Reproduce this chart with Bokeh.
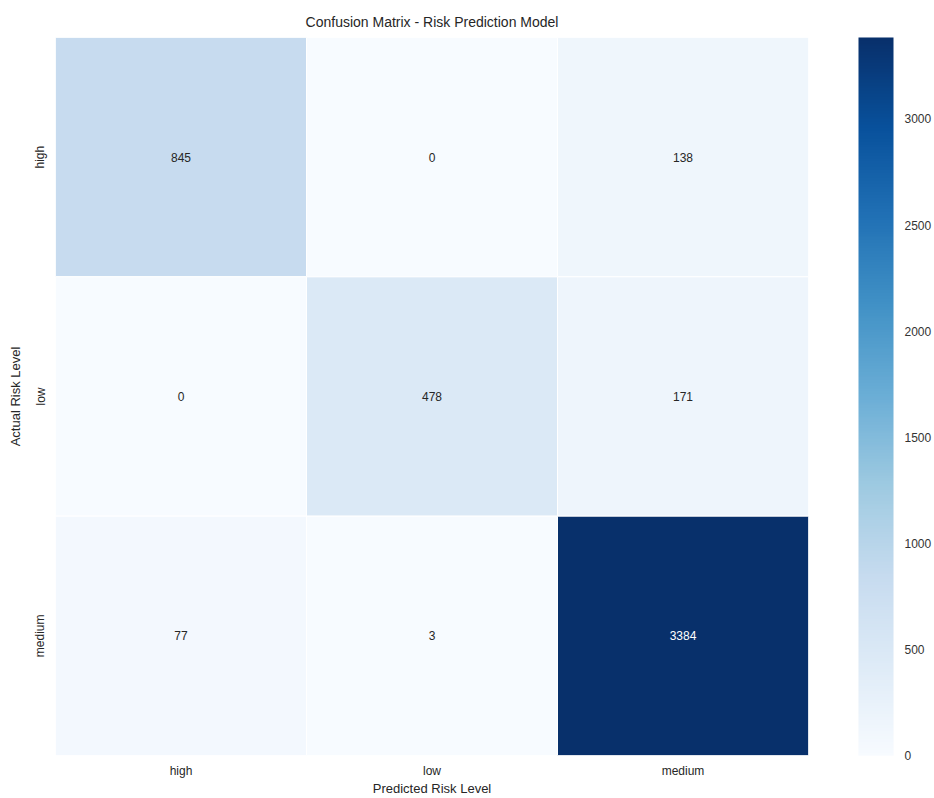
from bokeh.plotting import figure
from bokeh.models import ColumnDataSource, LinearColorMapper, ColorBar, FixedTicker
from bokeh.palettes import Blues256
from bokeh.embed import file_html
from bokeh.resources import INLINE

# ---- data ----
categories = ["high", "low", "medium"]
actual = ["high", "high", "high", "low", "low", "low", "medium", "medium", "medium"]
predicted = ["high", "low", "medium", "high", "low", "medium", "high", "low", "medium"]
counts = [845, 0, 138, 0, 478, 171, 77, 3, 3384]
colorbar_ticks = [0, 500, 1000, 1500, 2000, 2500, 3000]

vmax = max(counts)
palette = list(reversed(Blues256))
mapper = LinearColorMapper(palette=palette, low=0, high=vmax)

text_colors = ["white" if c / vmax > 0.6 else "#262626" for c in counts]
labels = [str(c) for c in counts]

src = ColumnDataSource(dict(actual=actual, predicted=predicted, counts=counts,
                            labels=labels, tcol=text_colors))

FONT = "Liberation Sans"
FRAME_W = 753
FRAME_H = 718
p = figure(width=934, height=798, output_backend="svg", toolbar_location=None,
           x_range=categories, y_range=list(reversed(categories)),
           title="Confusion Matrix - Risk Prediction Model",
           frame_width=FRAME_W, frame_height=FRAME_H,
           min_border_left=55, min_border_right=126, min_border_top=37, min_border_bottom=41)

p.rect(x="predicted", y="actual", width=1, height=1, source=src,
       fill_color={"field": "counts", "transform": mapper},
       line_color="white", line_width=1)
p.text(x="predicted", y="actual", text="labels", source=src, text_color="tcol",
       text_align="center", text_baseline="middle", text_font_size="12px",
       text_font={"value": FONT})

p.title.align = "center"
p.title.text_font = FONT
p.title.text_font_size = "14px"
p.title.text_font_style = "normal"
p.title.text_color = "#262626"
p.title.standoff = 16

p.outline_line_color = None
p.grid.grid_line_color = None
for ax in (p.xaxis, p.yaxis):
    ax.axis_line_color = None
    ax.major_tick_line_color = None
    ax.minor_tick_line_color = None
    ax.major_tick_out = 0
    ax.major_tick_in = 0
    ax.minor_tick_out = 0
    ax.minor_tick_in = 0
    ax.major_label_text_font = FONT
    ax.major_label_text_font_size = "12px"
    ax.major_label_text_color = "#262626"
    ax.axis_label_text_font = FONT
    ax.axis_label_text_font_size = "13px"
    ax.axis_label_text_font_style = "normal"
    ax.axis_label_text_color = "#262626"

p.xaxis.major_label_standoff = 8
p.xaxis.axis_label_standoff = 0
p.yaxis.major_label_standoff = 8
p.yaxis.axis_label_standoff = 8
p.xaxis.axis_label = "Predicted Risk Level"
p.yaxis.axis_label = "Actual Risk Level"
p.yaxis.major_label_orientation = "vertical"

cb = ColorBar(color_mapper=mapper, ticker=FixedTicker(ticks=colorbar_ticks),
              width=35, height=FRAME_H, padding=0, margin=0,
              location=(FRAME_W + 50, 0),
              major_tick_line_color=None, bar_line_color=None,
              label_standoff=11, major_label_text_font=FONT,
              major_label_text_font_size="12px", major_label_text_color="#333333",
              border_line_color=None, background_fill_color=None)
p.add_layout(cb, "center")

open("out.html", "w").write(file_html(p, INLINE))
